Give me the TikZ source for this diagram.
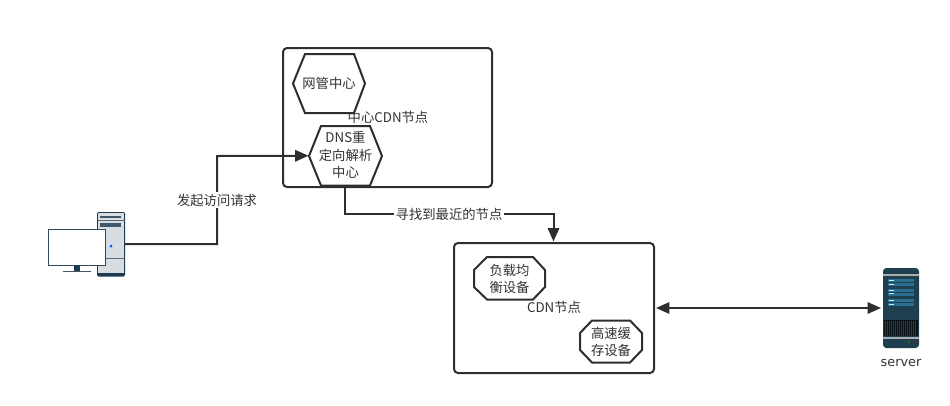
\documentclass[tikz,border=0pt]{standalone}
\usepackage{fontspec}
\setmainfont{Noto Sans CJK SC}
\newfontfamily\serverfont{DejaVu Sans}
\usetikzlibrary{arrows.meta,calc}
\definecolor{ln}{HTML}{2E2E2E}
\definecolor{txt}{HTML}{333333}
\definecolor{navy}{HTML}{1F3B50}
\definecolor{srv}{HTML}{1E3F50}
\definecolor{srvb}{HTML}{2A6F8F}
\definecolor{gry}{HTML}{D8DDE1}
\tikzset{
  every node/.style={font=\fontsize{10pt}{12.8pt}\selectfont,text=txt,align=center,inner sep=0pt,outer sep=0pt},
  box/.style={draw=ln,line width=1.5pt,rounded corners=3pt,fill=white},
  hexa/.style={draw=ln,line width=1.5pt,fill=white,line join=miter},
  conn/.style={draw=ln,line width=1.5pt,-{Triangle[length=10pt,width=8.5pt]}},
  connb/.style={draw=ln,line width=1.5pt,{Triangle[length=10pt,width=8.5pt]}-{Triangle[length=10pt,width=8.5pt]}},
  lab/.style={fill=white,inner sep=1pt},
}
\begin{document}
\begin{tikzpicture}[x=0.75pt,y=-0.75pt]
\useasboundingbox (0,0) rectangle (950,405);
% containers
\node[box,minimum width=156.75pt,minimum height=104.25pt,anchor=north west] (center) at (283,48) {};
\node[box,minimum width=150pt,minimum height=97.5pt,anchor=north west] (edge) at (454,243) {};
% hexagons
\coordinate (h1) at (329,83.5);
\draw[hexa] (293,83.5) -- (305,54) -- (354,54) -- (365,83.5) -- (354,113) -- (305,113) -- cycle;
\node (wg) at (h1) {网管中心};
\draw[hexa] (309,156) -- (321,126) -- (370,126) -- (382,156) -- (370,185.5) -- (321,185.5) -- cycle;
\node[minimum width=54.75pt,minimum height=44.25pt] (dns) at (345,155.75) {};
\node at (345.5,155) {DNS重\\定向解析\\中心};
\node (ct) at (388,117) {中心CDN节点};
% octagons
\draw[hexa] (474,270) -- (487,257) -- (533,257) -- (545,270) -- (545,287) -- (533,299.5) -- (487,299.5) -- (474,287) -- cycle;
\node (lb) at (509.5,278.5) {负载均\\衡设备};
\draw[hexa] (580,333) -- (592,320.5) -- (630,320.5) -- (642,333) -- (642,350) -- (630,362.5) -- (592,362.5) -- (580,350) -- cycle;
\node (cache) at (611,341.5) {高速缓\\存设备};
\node (cd) at (554,307) {CDN节点};
% computer
\coordinate (pc) at (125,244);
\fill[navy,rounded corners=1pt] (97,212) rectangle (125,276.5);
\fill[gry] (98,213) rectangle (124,273);
\draw[gray!70!navy,line width=.6pt] (97.5,220.5) -- (124.5,220.5) (97.5,258.5) -- (124.5,258.5);
\fill[navy!85] (100,216) rectangle (121,218);
\fill[navy!85] (100,223) rectangle (121,227);
\fill[blue!70!cyan] (111,246) circle (1.5);
\draw[navy!80!gray,line width=.7pt,fill=white] (48.5,229.5) rectangle (105.5,265);
\fill[navy] (74,265) rectangle (80,271);
\fill[navy!85] (63,270.5) rectangle (91,272);
% server
\coordinate (sv) at (881,308);
\fill[srv,rounded corners=2.5pt] (883,268) rectangle (919,348);
\fill[gray!65] (883,274) rectangle (919,275.5);
\fill[gray!65] (883,337) rectangle (919,338.5);
\foreach \yy in {279,288.5,299}{
  \fill[srvb] (888,\yy) rectangle (914,\yy+7);
  \fill[cyan!25] (889,\yy+1) rectangle (894,\yy+2);
  \fill[cyan!25] (889,\yy+4.5) rectangle (894,\yy+5.5);
  \draw[srv,line width=.3pt] (888,\yy+3.5) -- (914,\yy+3.5);
}
\fill[black!75!srv] (884,320) rectangle (918,336);
\foreach \i in {0,...,15}{\draw[srvb!60!black,line width=.3pt] (885.5+2*\i,321) -- (885.5+2*\i,336);}
\fill[green!60!black] (909,342) circle (1);
\fill[red!70!black] (914,342) circle (1);
\node[font=\serverfont\fontsize{9.6pt}{11pt}\selectfont] (svt) at (901,362.5) {server};
% connectors
\draw[conn] (pc) -- (217,244) -- (217,156) -- (dns.west);
\node[lab] (l1) at (217,200) {发起访问请求};
\draw[conn] (dns.south) -- (345,213.5) -- (553.5,213.5) -- (553.5,241.5);
\node[lab] (l2) at (449,214) {寻找到最近的节点};
\draw[connb] ([xshift=1.5pt]edge.east |- sv) -- (sv);
\end{tikzpicture}
\end{document}
